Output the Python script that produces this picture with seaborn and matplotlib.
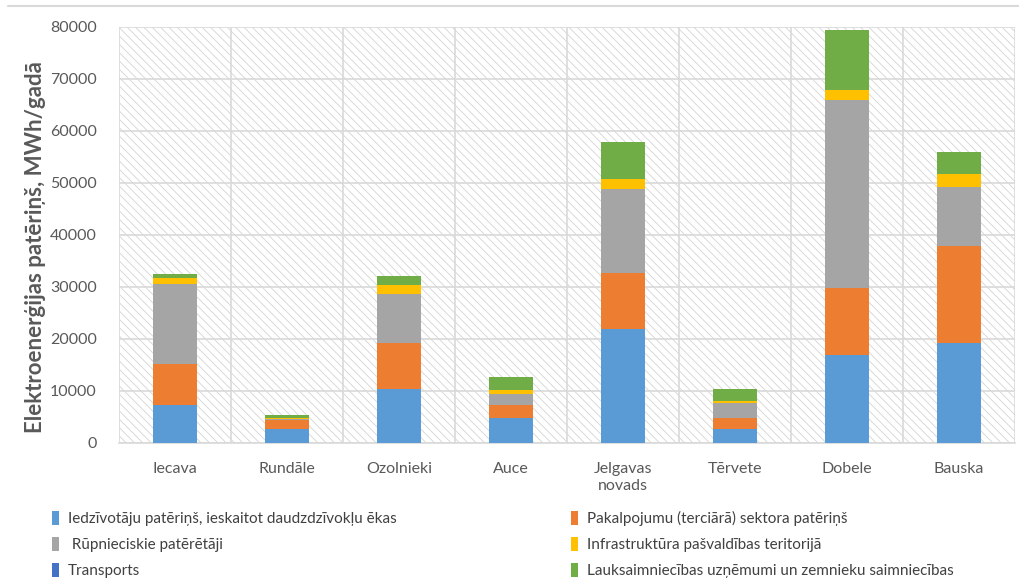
import numpy as np
import pandas as pd
import matplotlib
matplotlib.use('Agg')
import matplotlib.pyplot as plt
import seaborn as sns
from matplotlib.patches import Rectangle, Patch
from matplotlib.lines import Line2D
from matplotlib.ticker import FixedLocator

categories = ['Iecava', 'Rundāle', 'Ozolnieki', 'Auce', 'Jelgavas\nnovads', 'Tērvete', 'Dobele', 'Bauska']
iedzivotaju = [7300, 2700, 10300, 4900, 22000, 2600, 16900, 19200]
pakalpojumu = [7900, 1700, 8900, 2400, 10600, 2300, 12900, 18600]
rupnieciskie = [15400, 200, 9400, 2200, 16300, 2850, 36100, 11500]
infrastruktura = [1100, 300, 1700, 600, 1900, 350, 1900, 2400]
transports = [0, 0, 0, 0, 0, 0, 0, 0]
lauksaimniecibas = [800, 400, 1800, 2650, 7000, 2200, 11600, 4300]

series_names = [
    'Iedzīvotāju patēriņš, ieskaitot daudzdzīvokļu ēkas',
    'Pakalpojumu (terciārā) sektora patēriņš',
    ' Rūpnieciskie patērētāji',
    'Infrastruktūra pašvaldības teritorijā',
    'Transports',
    'Lauksaimniecības uzņēmumi un zemnieku saimniecības',
]
series_values = [iedzivotaju, pakalpojumu, rupnieciskie, infrastruktura, transports, lauksaimniecibas]
colors = ['#5B9BD5', '#ED7D31', '#A5A5A5', '#FFC000', '#4472C4', '#70AD47']

sns.set_theme(style='white')
plt.rcParams['font.family'] = ['Lato', 'DejaVu Sans']
plt.rcParams['hatch.linewidth'] = 0.6

fig = plt.figure(figsize=(10.19, 5.87), dpi=100)
ax = fig.add_axes([119 / 1019, 1 - 443 / 587, (1015 - 119) / 1019, (443 - 27) / 587])

# hatched background
ax.add_patch(Rectangle((0, 0), 1, 1, transform=ax.transAxes, facecolor='white',
                       edgecolor='#d4d4d4', hatch='\\\\\\\\', linewidth=0, zorder=0))

cum = np.cumsum(np.array(series_values, dtype=float), axis=0)
df = pd.DataFrame({'category': categories})
for i in range(len(series_names) - 1, -1, -1):
    if np.all(np.array(series_values[i]) == 0):
        continue
    df['value'] = cum[i]
    sns.barplot(data=df, x='category', y='value', color=colors[i], saturation=1,
                width=0.40, errorbar=None, ax=ax, linewidth=0, zorder=3)

ax.set_xlim(-0.5, 7.5)
ax.set_ylim(0, 80000)
ax.set_yticks(np.arange(0, 80001, 10000))
ax.set_yticklabels([str(v) for v in range(0, 80001, 10000)])
ax.xaxis.set_minor_locator(FixedLocator(np.arange(-0.5, 8, 1)))
ax.grid(False)
ax.grid(axis='y', which='major', color='#d9d9d9', linewidth=1.2, zorder=1)
ax.grid(axis='x', which='minor', color='#d9d9d9', linewidth=1.2, zorder=1)
ax.set_axisbelow(True)
for s in ax.spines.values():
    s.set_visible(False)
ax.spines['bottom'].set_visible(True)
ax.spines['bottom'].set_color('#d9d9d9')
ax.spines['bottom'].set_linewidth(1.2)

ax.tick_params(axis='both', which='both', length=0, colors='#595959', labelsize=11.5)
ax.tick_params(axis='x', pad=14)
ax.tick_params(axis='y', pad=16)
ax.set_xlabel('')
ax.set_ylabel('Elektroenerģijas patēriņš, MWh/gadā', fontsize=16, fontweight='bold',
              color='#595959', labelpad=4)
ax.yaxis.set_label_coords(-0.082, 0.47)

# legends
def handles(idx):
    return [Patch(facecolor=colors[i], edgecolor='none') for i in idx], [series_names[i] for i in idx]

for idx, x0 in (([0, 2, 4], 52), ([1, 3, 5], 571)):
    h, l = handles(idx)
    leg = fig.legend(h, l, loc='upper left', bbox_to_anchor=(x0 / 1019, 1 - 511 / 587),
                     frameon=False, fontsize=11, handlelength=0.45, handleheight=1.0,
                     handletextpad=0.6, labelspacing=0.72, borderpad=0, borderaxespad=0)
    for t in leg.get_texts():
        t.set_color('#404040')

fig.add_artist(Line2D([8 / 1019, 1], [1 - 6 / 587, 1 - 6 / 587], color='#d9d9d9', linewidth=1.5))

fig.savefig('out.png', dpi=100)
